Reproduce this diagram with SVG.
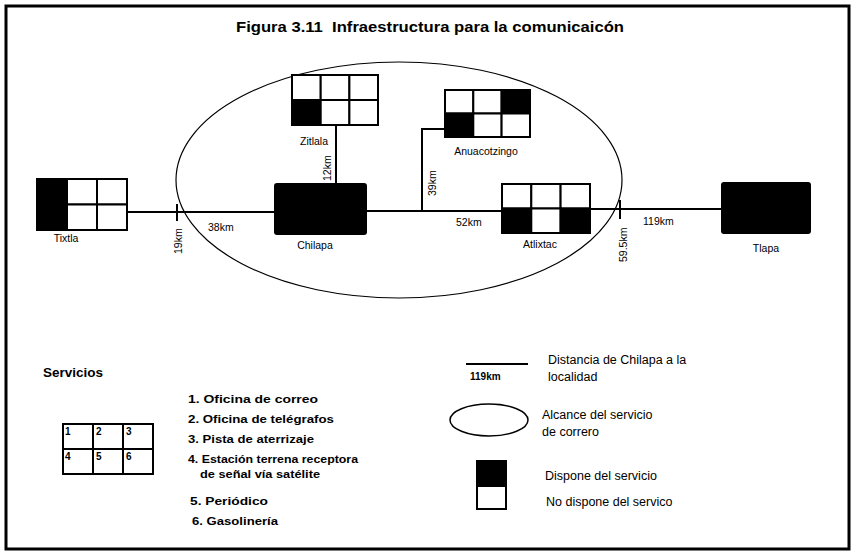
<svg xmlns="http://www.w3.org/2000/svg" width="854" height="555" viewBox="0 0 854 555">
<style>
.t{font-family:"Liberation Sans",Arial,sans-serif;fill:#000}
.lbl{font-size:10.5px}
.km{font-size:10.5px}
.b{font-weight:bold}
.cell{fill:#fff;stroke:#000;stroke-width:2}
.blk{fill:#000;stroke:#000;stroke-width:2}
.ln{stroke:#000;stroke-width:2;fill:none}
</style>
<rect x="0" y="0" width="854" height="555" fill="#fff"/>
<rect x="6" y="6" width="843" height="543" fill="none" stroke="#000" stroke-width="3"/>
<text class="t b" x="430" y="32" font-size="15" text-anchor="middle" textLength="388" lengthAdjust="spacingAndGlyphs" xml:space="preserve">Figura 3.11  Infraestructura para la comunicaicón</text>

<g id="connectors">
<line class="ln" x1="127" y1="212" x2="276" y2="212"/>
<line class="ln" x1="366" y1="211" x2="502" y2="211"/>
<line class="ln" x1="590" y1="209" x2="722" y2="209"/>
<line class="ln" x1="336" y1="125" x2="336" y2="184"/>
<polyline class="ln" points="445,129 422,129 422,211"/>
<line class="ln" x1="177" y1="204" x2="177" y2="221"/>
<line class="ln" x1="620" y1="200" x2="620" y2="219"/>
<text class="t km" transform="translate(182,254) rotate(-90)">19km</text>
<text class="t km" x="208" y="231">38km</text>
<text class="t km" transform="translate(331,181) rotate(-90)">12km</text>
<text class="t km" transform="translate(436,196) rotate(-90)">39km</text>
<text class="t km" x="456" y="226">52km</text>
<text class="t km" transform="translate(627,262) rotate(-90)">59.5km</text>
<text class="t km" x="643" y="225">119km</text>
</g>

<ellipse id="alcance" cx="399" cy="180" rx="223" ry="118" fill="none" stroke="#000" stroke-width="1.2"/>

<g id="tixtla">
<rect class="cell" x="37" y="179" width="30" height="25.5"/>
<rect class="cell" x="67" y="179" width="30" height="25.5"/>
<rect class="cell" x="97" y="179" width="30" height="25.5"/>
<rect class="cell" x="37" y="204.5" width="30" height="25.5"/>
<rect class="cell" x="67" y="204.5" width="30" height="25.5"/>
<rect class="cell" x="97" y="204.5" width="30" height="25.5"/>
<rect class="blk" x="37" y="179" width="30" height="51"/>
<text class="t lbl" x="66" y="242" text-anchor="middle">Tixtla</text>
</g>

<g id="chilapa">
<rect class="blk" x="275" y="184" width="91" height="50" rx="2"/>
<text class="t lbl" x="315" y="249" text-anchor="middle">Chilapa</text>
</g>

<g id="zitlala">
<rect class="cell" x="292" y="75" width="28.7" height="25"/>
<rect class="cell" x="320.7" y="75" width="28.7" height="25"/>
<rect class="cell" x="349.4" y="75" width="28.6" height="25"/>
<rect class="blk" x="292" y="100" width="28.7" height="25"/>
<rect class="cell" x="320.7" y="100" width="28.7" height="25"/>
<rect class="cell" x="349.4" y="100" width="28.6" height="25"/>
<text class="t lbl" x="314" y="145" text-anchor="middle">Zitlala</text>
</g>

<g id="anuacotzingo">
<rect class="cell" x="445" y="90" width="28.3" height="23.5"/>
<rect class="cell" x="473.3" y="90" width="28.3" height="23.5"/>
<rect class="blk" x="501.6" y="90" width="28.4" height="23.5"/>
<rect class="blk" x="445" y="113.5" width="28.3" height="23.5"/>
<rect class="cell" x="473.3" y="113.5" width="28.3" height="23.5"/>
<rect class="cell" x="501.6" y="113.5" width="28.4" height="23.5"/>
<text class="t lbl" x="486" y="155" text-anchor="middle">Anuacotzingo</text>
</g>

<g id="atlixtac">
<rect class="cell" x="502" y="184" width="29.3" height="24.5"/>
<rect class="cell" x="531.3" y="184" width="29.3" height="24.5"/>
<rect class="cell" x="560.6" y="184" width="29.4" height="24.5"/>
<rect class="blk" x="502" y="208.5" width="29.3" height="24.5"/>
<rect class="cell" x="531.3" y="208.5" width="29.3" height="24.5"/>
<rect class="blk" x="560.6" y="208.5" width="29.4" height="24.5"/>
<text class="t lbl" x="540" y="248" text-anchor="middle">Atlixtac</text>
</g>

<g id="tlapa">
<rect class="blk" x="722" y="183" width="88" height="50" rx="2"/>
<text class="t lbl" x="766" y="252" text-anchor="middle">Tlapa</text>
</g>

<g id="legend-servicios">
<text class="t b" x="43" y="377" font-size="13.5">Servicios</text>
<rect class="cell" x="63" y="424" width="30" height="25" stroke-width="2.5"/>
<rect class="cell" x="93" y="424" width="30" height="25" stroke-width="2.5"/>
<rect class="cell" x="123" y="424" width="30" height="25" stroke-width="2.5"/>
<rect class="cell" x="63" y="449" width="30" height="25" stroke-width="2.5"/>
<rect class="cell" x="93" y="449" width="30" height="25" stroke-width="2.5"/>
<rect class="cell" x="123" y="449" width="30" height="25" stroke-width="2.5"/>
<g class="t b" font-size="10">
<text x="65" y="435">1</text>
<text x="96" y="435">2</text>
<text x="126" y="435">3</text>
<text x="65" y="460">4</text>
<text x="96" y="460">5</text>
<text x="126" y="460">6</text>
</g>
<g class="t b" font-size="10.5">
<text x="188" y="403" textLength="130" lengthAdjust="spacingAndGlyphs">1. Oficina de correo</text>
<text x="188" y="423" textLength="146" lengthAdjust="spacingAndGlyphs">2. Oficina de telégrafos</text>
<text x="188" y="443" textLength="126" lengthAdjust="spacingAndGlyphs">3. Pista de aterrizaje</text>
<text x="188" y="463" textLength="170" lengthAdjust="spacingAndGlyphs">4. Estación terrena receptora</text>
<text x="200" y="478" textLength="120" lengthAdjust="spacingAndGlyphs">de señal vía satélite</text>
<text x="190" y="505" textLength="78" lengthAdjust="spacingAndGlyphs">5. Periódico</text>
<text x="192" y="525" textLength="86" lengthAdjust="spacingAndGlyphs">6. Gasolinería</text>
</g>
</g>

<g id="legend-distancia">
<line class="ln" x1="466" y1="364" x2="528" y2="364"/>
<text class="t b" x="470" y="380" font-size="10">119km</text>
<text class="t" x="548" y="364" font-size="12.5">Distancia de Chilapa a la</text>
<text class="t" x="548" y="381" font-size="12.5">localidad</text>
</g>

<g id="legend-alcance">
<ellipse cx="489" cy="420" rx="39" ry="16" fill="none" stroke="#000" stroke-width="1.5"/>
<text class="t" x="542" y="419" font-size="12.5">Alcance del servicio</text>
<text class="t" x="542" y="436" font-size="12.5">de correro</text>
</g>

<g id="legend-dispone">
<rect x="477" y="461" width="29" height="48" fill="#fff" stroke="#000" stroke-width="2"/>
<rect x="477" y="461" width="29" height="26" fill="#000"/>
<text class="t" x="545" y="480" font-size="12.5">Dispone del servicio</text>
<text class="t" x="546" y="506" font-size="12.5">No dispone del servico</text>
</g>
</svg>
